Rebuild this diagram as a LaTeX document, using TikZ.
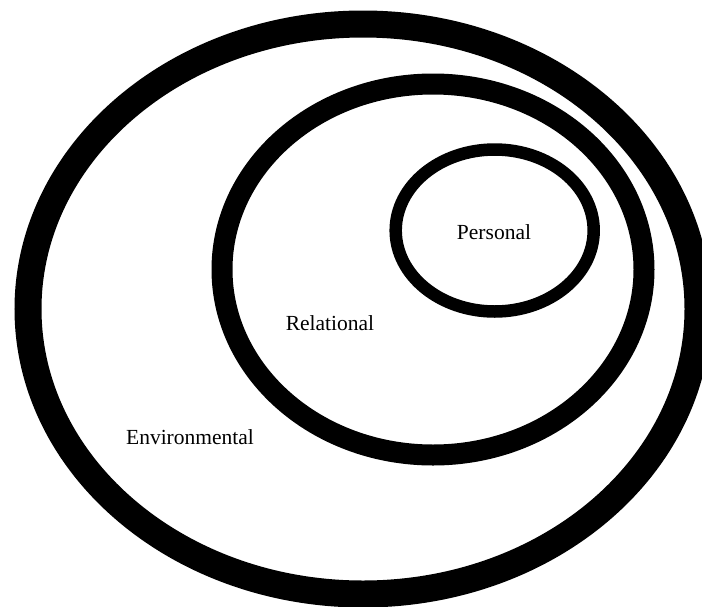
\documentclass[tikz,border=0pt]{standalone}
\usepackage{fontspec}
\setmainfont{Liberation Serif}
\begin{document}
\begin{tikzpicture}[x=1pt,y=-1pt,
  ring/.style={draw=black},
  lbl/.style={font=\fontsize{21.5}{25}\selectfont, inner sep=0pt, anchor=center}]
\useasboundingbox[fill=white] (0,0) rectangle (702,606);
\coordinate (co) at (363,309);
\coordinate (cm) at (433,269.5);
\coordinate (ci) at (494.7,230.5);
\draw[ring, line width=27pt] (co) ellipse [x radius=335, y radius=285];
\draw[ring, line width=21pt] (cm) ellipse [x radius=211, y radius=185.5];
\draw[ring, line width=12.5pt] (ci) ellipse [x radius=99, y radius=81];
\node[lbl] (personal) at (494,232) {Personal};
\node[lbl] (relational) at (330,323) {Relational};
\node[lbl] (environmental) at (190,437) {Environmental};
\end{tikzpicture}
\end{document}
